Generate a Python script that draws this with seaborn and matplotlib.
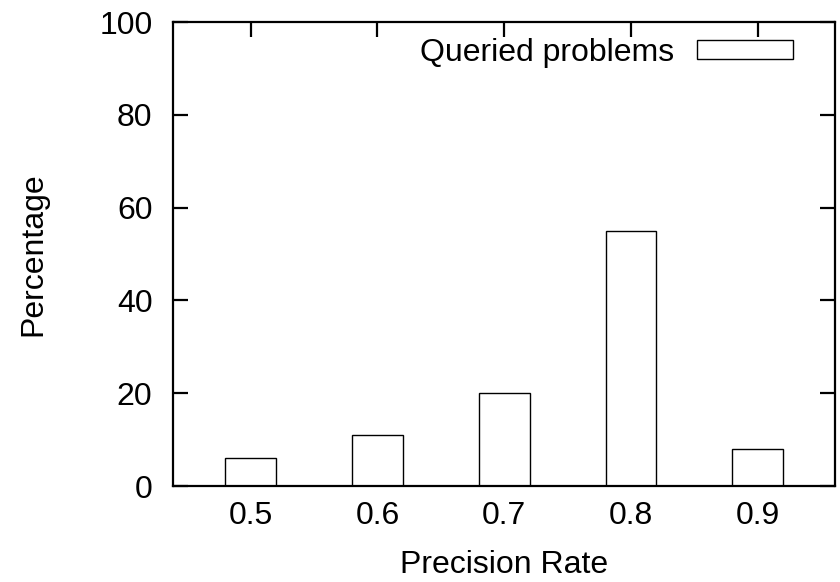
import pandas as pd
import matplotlib.pyplot as plt
import seaborn as sns

# values
precision = ["0.5", "0.6", "0.7", "0.8", "0.9"]
percentage = [6, 11, 20, 55, 8]
series_name = "Queried problems"

sns.set_theme(style="white")
plt.rcParams['font.family'] = ['Liberation Sans', 'DejaVu Sans']
plt.rcParams['text.color'] = 'black'
plt.rcParams['axes.labelcolor'] = 'black'
plt.rcParams['xtick.color'] = 'black'
plt.rcParams['ytick.color'] = 'black'
fs = 23

df = pd.DataFrame({"Precision Rate": precision, "Percentage": percentage})

W, H = 840, 582
left, right, top, bottom = 173.3, 835, 22, 486
fig = plt.figure(figsize=(W / 100, H / 100), dpi=100)
ax = fig.add_axes([left / W, 1 - bottom / H, (right - left) / W, (bottom - top) / H])

sns.barplot(data=df, x="Precision Rate", y="Percentage", ax=ax,
            width=0.4, color="white", edgecolor="black", linewidth=1.0,
            label=series_name)

ax.set_ylim(0, 100)
ax.set_xlim(-0.61, 4.61)
ax.set_yticks(range(0, 101, 20))
ax.tick_params(axis="both", direction="in", length=10.8, width=1.6, labelsize=fs,
               top=True, right=True, left=True, bottom=True,
               color="black", labelcolor="black")
ax.tick_params(axis="y", pad=15)
ax.tick_params(axis="x", pad=10.5)
for s in ax.spines.values():
    s.set_color("black")
    s.set_linewidth(1.6)

ax.set_xlabel("Precision Rate", fontsize=fs, color="black")
ax.set_ylabel("Percentage", fontsize=fs, color="black")
ax.xaxis.set_label_coords(0.5, -(550 - bottom) / (bottom - top))
ax.yaxis.set_label_coords(-(left - 48) / (right - left), 0.5)

leg = ax.legend(loc="center right", frameon=False, markerfirst=False,
                handlelength=3.03, handleheight=0.53, handletextpad=0.69,
                fontsize=fs, borderpad=0, borderaxespad=0,
                bbox_to_anchor=((793.3 - left) / (right - left), (bottom - 53) / (bottom - top)))
for t in leg.get_texts():
    t.set_color("black")

fig.savefig("out.png", dpi=100)
